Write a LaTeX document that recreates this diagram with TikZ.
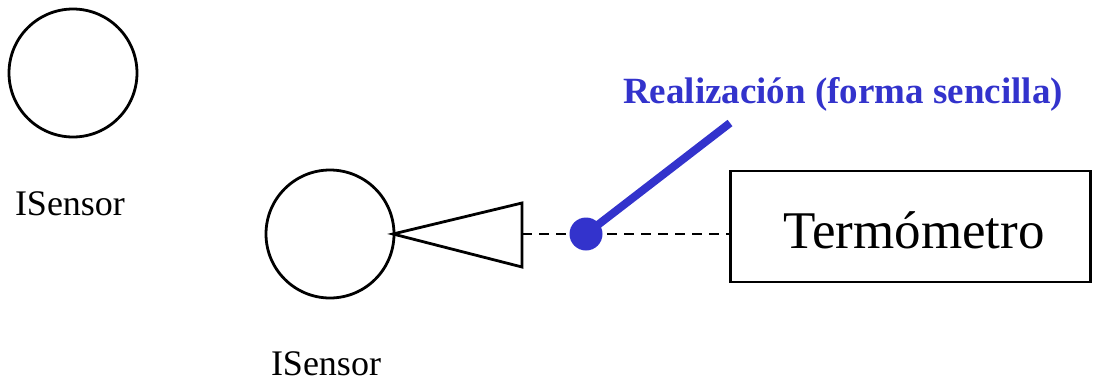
\documentclass[tikz,border=0pt]{standalone}
\usepackage{fontspec}
\setmainfont{Liberation Serif}
\definecolor{realblue}{HTML}{3333CC}
\begin{document}
\begin{tikzpicture}[x=1pt,y=-1pt,
  iface/.style={draw=black,line width=2.8pt,circle,inner sep=0pt,minimum size=128pt},
  lbl/.style={anchor=base,font=\fontsize{36}{40}\selectfont},
  classbox/.style={draw=black,line width=2.8pt,rectangle,minimum width=360pt,minimum height=111pt,
    inner sep=0pt,text height=43pt,text depth=0pt,font=\fontsize{53}{60}\selectfont},
  dep/.style={dashed,dash pattern=on 10pt off 7pt,line width=2.4pt},
  realdot/.style={circle,fill=realblue,inner sep=0pt,minimum size=33pt},
  realline/.style={draw=realblue,line width=8pt},
  note/.style={anchor=base,text=realblue,font=\fontsize{37}{40}\selectfont\bfseries}]
\useasboundingbox (0,0) rectangle (1093,383);
\node[iface] (c1) at (73,73) {};
\node[lbl] (l1) at (70,215) {ISensor};
\node[iface] (c2) at (330,234) {};
\node[lbl] (l2) at (326,375) {ISensor};
\coordinate (apex) at (393,234);
\coordinate (bt) at (522,203);
\coordinate (bb) at (522,267);
\coordinate (bm) at (522,234);
\draw[line width=2.8pt,line join=miter] (apex) -- (bt) -- (bb) -- cycle;
\node[classbox] (t) at (910.5,226.5) {\hspace{7pt}Termómetro};
\draw[dep] (bm) -- (bm -| t.west);
\node[realdot] (d) at (586,234) {};
\coordinate (le) at (730,123);
\draw[realline] (d.center) -- (le);
\node[note] (n) at (843,103) {Realización (forma sencilla)};
\end{tikzpicture}
\end{document}
